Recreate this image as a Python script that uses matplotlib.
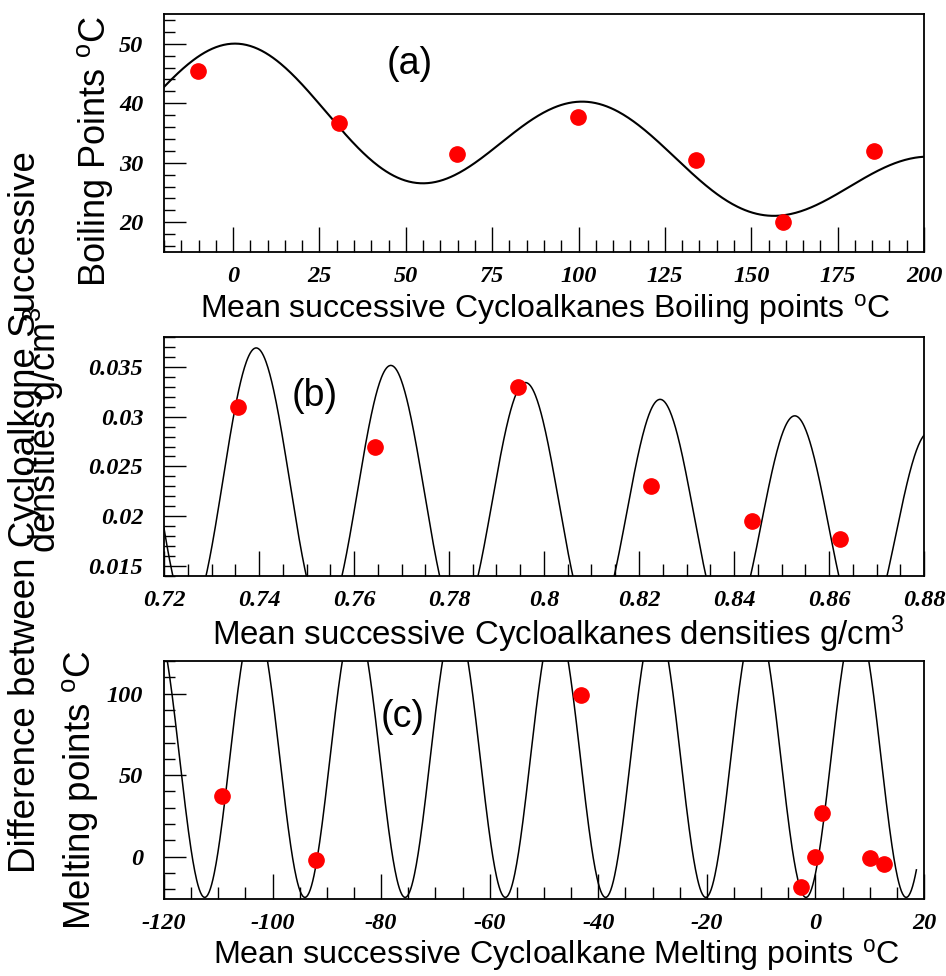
import numpy as np
import matplotlib
matplotlib.use('Agg')
import matplotlib.pyplot as plt
from matplotlib.ticker import MultipleLocator

plt.rcParams['font.family'] = ['Liberation Sans', 'DejaVu Sans']
plt.rcParams['mathtext.fontset'] = 'custom'
plt.rcParams['mathtext.rm'] = 'Liberation Sans'
plt.rcParams['mathtext.it'] = 'Liberation Sans:italic'
plt.rcParams['axes.unicode_minus'] = False

# (a) boiling points: mean of successive cycloalkanes vs difference
bp_mean = [-10.3, 30.8, 64.9, 99.7, 133.9, 159.2, 185.4]
bp_diff = [45.4, 36.6, 31.5, 37.7, 30.5, 20.0, 31.9]
# fit parameters
bp_fit = dict(mid=39.5, slope=-0.074, amp=10.4, tau=405.0, x0=3.0, period=101.0)

# (b) densities
dn_mean = [0.7355, 0.7645, 0.7945, 0.8225, 0.8437, 0.8623]
dn_diff = [0.0310, 0.0270, 0.0330, 0.0230, 0.0195, 0.0177]
dn_fit = dict(mid=0.0234, slope=-0.0375, amp=0.0135, tau=0.538, x0=0.7395, period=0.02835)

# (c) melting points
mp_mean = [-109.4, -92.0, -43.2, -2.7, 0.0, 1.3, 10.0, 12.6]
mp_diff = [37.0, -2.0, 99.4, -18.5, 0.0, 26.6, -1.0, -4.3]
mp_fit = dict(mid=60.3, amp=85.3, x0=-112.5, period=18.46)

W, H = 946, 976
fig = plt.figure(figsize=(W / 100, H / 100), dpi=100)


def box(left, top, right, bottom):
    return [left / W, 1 - bottom / H, (right - left) / W, (bottom - top) / H]


def damped(x, p):
    t = x - p['x0']
    return (p['mid'] + p['slope'] * t
            + p['amp'] * np.exp(-t / p['tau']) * np.cos(2 * np.pi * t / p['period']))


tick_font = dict(family='Liberation Serif', weight='bold', style='italic', size=17.5)


def style(ax, xmaj, xmin, ymaj, ymin):
    ax.xaxis.set_major_locator(MultipleLocator(xmaj))
    ax.xaxis.set_minor_locator(MultipleLocator(xmin))
    ax.yaxis.set_major_locator(MultipleLocator(ymaj))
    ax.yaxis.set_minor_locator(MultipleLocator(ymin))
    ax.tick_params(axis='x', which='major', direction='in', length=18, width=1, pad=10, top=False)
    ax.tick_params(axis='x', which='minor', direction='in', length=9, width=1, top=False)
    ax.tick_params(axis='y', which='major', direction='in', length=16, width=1, pad=15, right=False)
    ax.tick_params(axis='y', which='minor', direction='in', length=8, width=1, right=False)
    for s in ax.spines.values():
        s.set_linewidth(1.3)
    for lab in ax.get_xticklabels() + ax.get_yticklabels():
        lab.set_fontproperties(tick_font)


def fmt(v, _):
    s = ('%.3f' % v).rstrip('0').rstrip('.')
    return s


def ftext(x, y, s, **kw):
    # x, y in pixels from the top-left corner
    fig.text(x / W, 1 - y / H, s, **kw)


# ---- panel (a)
ax1 = fig.add_axes(box(164, 14, 924, 252))
xa = np.linspace(-20, 200, 600)
ax1.plot(xa, damped(xa, bp_fit), color='black', lw=1.5)
ax1.plot(bp_mean, bp_diff, 'o', color='red', ms=11, mec='red')
ax1.set_xlim(-20, 200)
ax1.set_ylim(15, 55)
style(ax1, 25, 5, 10, 2)

# ---- panel (b)
ax2 = fig.add_axes(box(164, 337, 924, 576))
xb = np.linspace(0.72, 0.88, 1200)
ax2.plot(xb, damped(xb, dn_fit), color='black', lw=1.1)
ax2.plot(dn_mean, dn_diff, 'o', color='red', ms=11, mec='red')
ax2.set_xlim(0.72, 0.88)
ax2.set_ylim(0.014, 0.038)
ax2.xaxis.set_major_formatter(plt.FuncFormatter(fmt))
ax2.yaxis.set_major_formatter(plt.FuncFormatter(fmt))
style(ax2, 0.02, 0.005, 0.005, 0.001)

# ---- panel (c)
ax3 = fig.add_axes(box(164, 661, 924, 899))
xc = np.linspace(-120, 18.6, 1200)
yc = mp_fit['mid'] - mp_fit['amp'] * np.cos(2 * np.pi * (xc - mp_fit['x0']) / mp_fit['period'])
ax3.plot(xc, yc, color='black', lw=1.1)
ax3.plot(mp_mean, mp_diff, 'o', color='red', ms=11, mec='red')
ax3.set_xlim(-120, 20)
ax3.set_ylim(-26, 120)
style(ax3, 20, 5, 50, 10)

# axis titles
ftext(545, 318, r'Mean successive Cycloalkanes Boiling points $^{\mathrm{o}}$C',
      ha='center', va='baseline', fontsize=23)
ftext(558, 645, r'Mean successive Cycloalkanes densities g/cm$^{3}$',
      ha='center', va='baseline', fontsize=23.8)
ftext(556, 964, r'Mean successive Cycloalkane Melting points $^{\mathrm{o}}$C',
      ha='center', va='baseline', fontsize=23.2)

rot = dict(rotation=90, rotation_mode='anchor', ha='center', va='baseline')
ftext(105, 151, r'Boiling Points $^{\mathrm{o}}$C', fontsize=26, **rot)
ftext(90, 790, r'Melting points $^{\mathrm{o}}$C', fontsize=26.5, **rot)
ftext(35, 512, 'Difference between Cycloalkgne Successive', fontsize=26.5, **rot)
ftext(56, 430, r'densities g/cm$^{3}$', fontsize=26, **rot)

# panel letters
ftext(410, 64, '(a)', ha='center', va='center', fontsize=27)
ftext(315, 396, '(b)', ha='center', va='center', fontsize=27)
ftext(403, 717, '(c)', ha='center', va='center', fontsize=27)

fig.savefig('out.png', dpi=100)
